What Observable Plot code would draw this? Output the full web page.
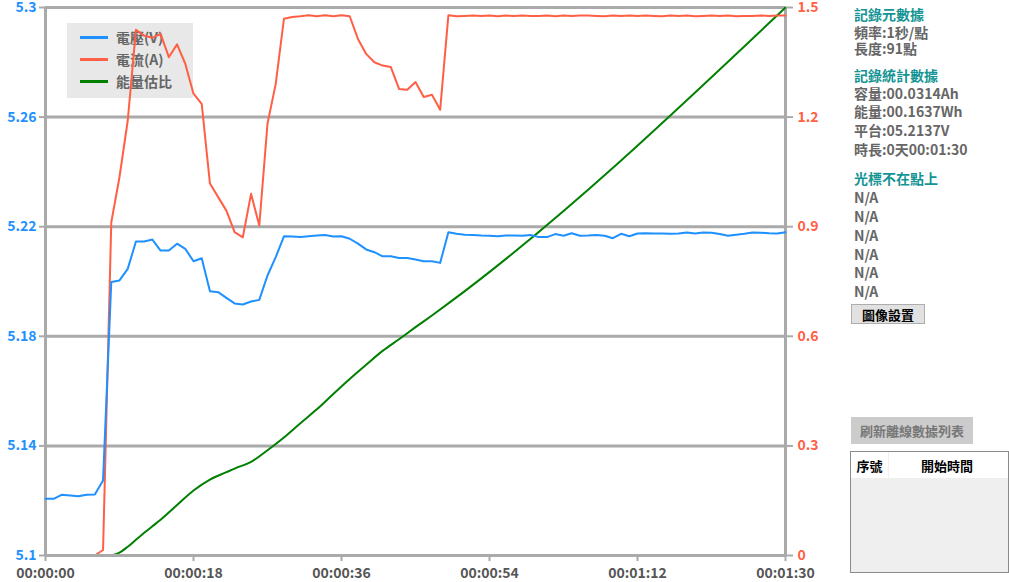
<!DOCTYPE html>
<html>
<head>
<meta charset="utf-8">
<script src="https://cdn.jsdelivr.net/npm/d3@7"></script>
<script src="https://cdn.jsdelivr.net/npm/@observablehq/plot@0.6"></script>
<style>
  body { margin: 0; background: #fff; font-family: "Noto Sans CJK TC", "Noto Sans", sans-serif; }
  #wrap { position: relative; width: 1009px; height: 582px; overflow: hidden; }
  #chart { position: absolute; left: 0; top: 0; z-index: 2; }
  .lg { position: absolute; left: 67px; top: 23px; width: 126px; height: 75px; background: #e8e8e8; z-index: 1; }
  .lg .row { position: absolute; left: 13px; height: 18px; display: flex; align-items: center; }
  .lg .sw { width: 28px; height: 3px; margin-right: 8px; }
  .lg .tx { font-size: 14px; font-weight: bold; color: #666; line-height: 18px; }
  .pl { position: absolute; left: 854px; font-size: 14px; font-weight: bold; line-height: 14px; height: 14px; color: #666; white-space: nowrap; }
  .pl.h { color: #149494; }
  .btn { position: absolute; box-sizing: border-box; font-size: 13px; font-weight: bold; display: flex; align-items: center; justify-content: center; }
</style>
</head>
<body>
<div id="wrap">
  <div class="lg" id="legend"></div>
  <div id="chart"></div>
  <div id="panel"></div>
</div>
<script>
// ---- data ----
const seconds = [0,1,2,3,4,5,6,7,8,9,10,11,12,13,14,15,16,17,18,19,20,21,22,23,24,25,26,27,28,29,30,31,32,33,34,35,36,37,38,39,40,41,42,43,44,45,46,47,48,49,50,51,52,53,54,55,56,57,58,59,60,61,62,63,64,65,66,67,68,69,70,71,72,73,74,75,76,77,78,79,80,81,82,83,84,85,86,87,88,89,90];
const voltage = [5.1207,5.1207,5.1222,5.1219,5.1216,5.1222,5.1223,5.1274,5.1998,5.2004,
  5.2046,5.2146,5.2146,5.2153,5.2113,5.2113,5.2138,5.2119,5.2074,5.2085,
  5.1964,5.1961,5.1940,5.1920,5.1916,5.1927,5.1933,5.2022,5.2089,5.2165,
  5.2164,5.2162,5.2165,5.2168,5.2170,5.2164,5.2165,5.2156,5.2138,5.2117,
  5.2107,5.2092,5.2092,5.2086,5.2086,5.2080,5.2074,5.2074,5.2068,5.2180,
  5.2174,5.2171,5.2170,5.2168,5.2167,5.2165,5.2168,5.2168,5.2167,5.2170,
  5.2162,5.2162,5.2173,5.2167,5.2176,5.2167,5.2168,5.2170,5.2167,5.2158,
  5.2174,5.2165,5.2175,5.2176,5.2175,5.2175,5.2174,5.2175,5.2179,5.2175,
  5.2179,5.2178,5.2173,5.2167,5.2171,5.2174,5.2179,5.2178,5.2176,5.2175,5.2180];
const current = [0,0,0,0,0,0,0,0.015,0.912,1.036,
  1.190,1.439,1.423,1.417,1.428,1.364,1.399,1.346,1.264,1.236,
  1.018,0.981,0.944,0.885,0.871,0.990,0.903,1.182,1.291,1.469,
  1.474,1.476,1.479,1.476,1.479,1.476,1.479,1.476,1.414,1.373,
  1.350,1.341,1.337,1.277,1.275,1.296,1.255,1.261,1.220,1.479,
  1.476,1.477,1.478,1.477,1.478,1.476,1.478,1.477,1.478,1.477,
  1.477,1.478,1.476,1.478,1.477,1.478,1.478,1.477,1.476,1.478,
  1.477,1.478,1.477,1.478,1.477,1.476,1.478,1.477,1.478,1.476,
  1.477,1.478,1.477,1.478,1.476,1.477,1.477,1.478,1.477,1.478,1.478];
// energy-ratio curve, read at the seconds where it could be read
const energySeconds = [8,9,10,11,12,13,14,16,18,20,22,23,25,27,29,31,33,35,37,39,41,43,45,47,49,90];
const energyRatio   = [0,0.008,0.024,0.043,0.062,0.080,0.098,0.138,0.178,0.208,0.228,0.238,0.256,0.288,0.323,0.362,0.400,0.442,0.483,0.522,0.560,0.592,0.625,0.657,0.690,1.5];

const xTicks = [0,18,36,54,72,90];
const xTickLabels = ["00:00:00","00:00:18","00:00:36","00:00:54","00:01:12","00:01:30"];
const vTicks = [5.1,5.14,5.18,5.22,5.26,5.3];
const vTickLabels = ["5.1","5.14","5.18","5.22","5.26","5.3"];
const aTicks = [0,0.3,0.6,0.9,1.2,1.5];
const aTickLabels = ["0","0.3","0.6","0.9","1.2","1.5"];

const seriesNames = ["電壓(V)","電流(A)","能量估比"];
const seriesColors = ["#1e90ff","#ff5f45","#008000"];

const panelLines = [
  ["記錄元數據", true, 7],
  ["頻率:1秒/點", false, 25],
  ["長度:91點", false, 41],
  ["記錄統計數據", true, 68],
  ["容量:00.0314Ah", false, 86],
  ["能量:00.1637Wh", false, 104],
  ["平台:05.2137V", false, 123],
  ["時長:0天00:01:30", false, 142],
  ["光標不在點上", true, 171],
  ["N/A", false, 190],
  ["N/A", false, 209],
  ["N/A", false, 228],
  ["N/A", false, 247],
  ["N/A", false, 265],
  ["N/A", false, 284]
];

// ---- mapping of right axis (0..1.5) into left axis (5.1..5.3) ----
const toV = a => 5.1 + a * (0.2 / 1.5);

const vData = seconds.map((t, i) => ({t, v: voltage[i]}));
const aData = seconds.map((t, i) => ({t, v: toV(current[i])}));
const eData = energySeconds.map((t, i) => ({t, v: toV(energyRatio[i])}));

const grid = "#aaaaaa";
const chart = Plot.plot({
  width: 840,
  height: 582,
  marginLeft: 45,
  marginRight: 55,
  marginTop: 7,
  marginBottom: 27,
  x: {domain: [0, 90]},
  y: {domain: [5.1, 5.3]},
  style: {fontFamily: "'Noto Sans CJK TC', 'Noto Sans', sans-serif", fontSize: "14px", fontWeight: "bold", overflow: "visible", background: "transparent"},
  marks: [
    Plot.ruleY(vTicks, {stroke: grid, strokeWidth: 3}),
    Plot.ruleX([0, 90], {stroke: grid, strokeWidth: 3}),
    Plot.line(eData, {x: "t", y: "v", stroke: seriesColors[2], strokeWidth: 2, curve: "monotone-x"}),
    Plot.line(aData, {x: "t", y: "v", stroke: seriesColors[1], strokeWidth: 2}),
    Plot.line(vData, {x: "t", y: "v", stroke: seriesColors[0], strokeWidth: 2}),
    Plot.ruleY([5.1], {stroke: grid, strokeWidth: 3}),
    Plot.axisX(xTicks, {tickFormat: (d, i) => xTickLabels[i], tickSize: 6, tickPadding: 7, stroke: grid, strokeWidth: 2, fill: "#555", label: null}),
    Plot.axisY(vTicks, {anchor: "left", tickFormat: (d, i) => vTickLabels[i], tickSize: 6, tickPadding: 3, stroke: grid, strokeWidth: 2, fill: seriesColors[0], label: null}),
    Plot.axisY(aTicks.map(toV), {anchor: "right", tickFormat: (d, i) => aTickLabels[i], tickSize: 7, tickPadding: 5, stroke: grid, strokeWidth: 2, fill: "#ff5f45", label: null})
  ]
});
document.getElementById("chart").appendChild(chart);

// legend
const lg = document.getElementById("legend");
seriesNames.forEach((n, i) => {
  const r = document.createElement("div");
  r.className = "row";
  r.style.top = (5 + i * 22) + "px";
  r.innerHTML = `<div class="sw" style="background:${seriesColors[i]}"></div><div class="tx">${n}</div>`;
  lg.appendChild(r);
});

// right panel
const panel = document.getElementById("panel");
panelLines.forEach(([txt, head, top]) => {
  const d = document.createElement("div");
  d.className = "pl" + (head ? " h" : "");
  d.style.top = top + "px";
  d.textContent = txt;
  panel.appendChild(d);
});
const b1 = document.createElement("div");
b1.className = "btn";
Object.assign(b1.style, {left: "851px", top: "304px", width: "74px", height: "20px", background: "#e1e1e1", border: "1px solid #adadad", color: "#000"});
b1.textContent = "圖像設置";
panel.appendChild(b1);
const b2 = document.createElement("div");
b2.className = "btn";
Object.assign(b2.style, {left: "851px", top: "417px", width: "122px", height: "27px", background: "#cccccc", color: "#777"});
b2.textContent = "刷新離線數據列表";
panel.appendChild(b2);
const tb = document.createElement("div");
Object.assign(tb.style, {position: "absolute", left: "850px", top: "451px", width: "159px", height: "122px", boxSizing: "border-box", border: "1px solid #8a8a8a", background: "#efefef"});
tb.innerHTML = `<div style="position:absolute;left:0;top:0;width:100%;height:26px;background:#fff;font-size:13px;font-weight:bold;color:#000">
  <div style="position:absolute;left:0;width:37px;top:0;height:26px;display:flex;align-items:center;justify-content:center;border-right:1px solid #f0f0f0">序號</div>
  <div style="position:absolute;left:38px;width:116px;top:0;height:26px;display:flex;align-items:center;justify-content:center">開始時間</div>
</div>`;
panel.appendChild(tb);
</script>
</body>
</html>
